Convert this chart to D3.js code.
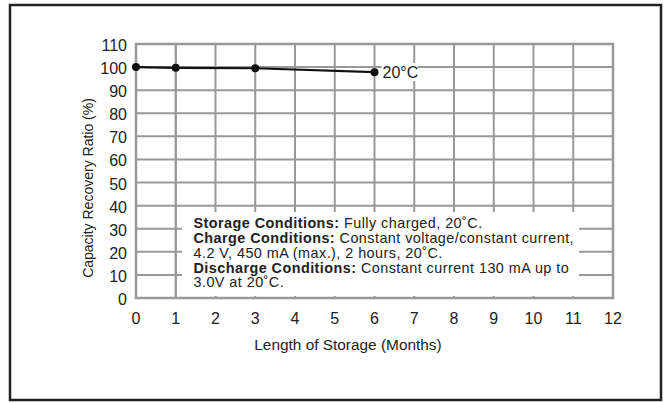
<!DOCTYPE html>
<html><head><meta charset="utf-8">
<script src="https://cdn.jsdelivr.net/npm/d3@7"></script>
<style>body{margin:0;background:#fff}svg{display:block}text{font-family:"Liberation Sans",Arial,sans-serif;fill:#222}</style>
</head><body><svg id="c" width="666" height="403"></svg>
<script>
const months = [0, 1, 3, 6];
const recovery = [100, 99.7, 99.5, 97.8];
const seriesLabel = "20°C";
const xTicks = [0,1,2,3,4,5,6,7,8,9,10,11,12];
const yTicks = [0,10,20,30,40,50,60,70,80,90,100,110];
const xTitle = "Length of Storage (Months)";
const yTitle = "Capacity Recovery Ratio (%)";
const noteLines = [
  [["Storage Conditions:", true], [" Fully charged, 20˚C.", false]],
  [["Charge Conditions:", true], [" Constant voltage/constant current,", false]],
  [["4.2 V, 450 mA (max.), 2 hours, 20˚C.", false]],
  [["Discharge Conditions:", true], [" Constant current 130 mA up to", false]],
  [["3.0V at 20˚C.", false]]
];

const svg = d3.select("#c");
const x = d3.scaleLinear().domain([0,12]).range([136,613]);
const y = d3.scaleLinear().domain([0,110]).range([298,44]);
const grid = "#999";

// outer frame
svg.append("rect").attr("x",10).attr("y",5).attr("width",651).attr("height",395)
  .attr("fill","none").attr("stroke","#222").attr("stroke-width",2.5);

// grid
svg.append("g").selectAll("line").data(xTicks).join("line")
  .attr("x1",d=>x(d)).attr("x2",d=>x(d)).attr("y1",y(110)).attr("y2",y(0))
  .attr("stroke",grid).attr("stroke-width",2);
svg.append("g").selectAll("line").data(yTicks).join("line")
  .attr("x1",x(0)).attr("x2",x(12)).attr("y1",d=>y(d)).attr("y2",d=>y(d))
  .attr("stroke",grid).attr("stroke-width",2);

// annotation box (white cover)
svg.append("rect").attr("x",182).attr("y",212).attr("width",397).attr("height",84).attr("fill","#fff");
svg.append("line").attr("x1",x(1)).attr("x2",x(1)).attr("y1",y(110)).attr("y2",y(0)).attr("stroke",grid).attr("stroke-width",2);
svg.append("rect").attr("x",x(0)).attr("y",y(110)).attr("width",x(12)-x(0)).attr("height",y(0)-y(110))
  .attr("fill","none").attr("stroke",grid).attr("stroke-width",2.5);

// axes labels
svg.append("g").selectAll("text").data(xTicks).join("text")
  .attr("x",d=>x(d)).attr("y",324).attr("text-anchor","middle").attr("font-size",16).text(d=>d);
svg.append("g").selectAll("text").data(yTicks).join("text")
  .attr("x",127).attr("y",d=>y(d)+7).attr("text-anchor","end").attr("font-size",16).text(d=>d);
svg.append("text").attr("x",348).attr("y",350).attr("text-anchor","middle").attr("font-size",15.4).text(xTitle);
svg.append("text").attr("transform","translate(93,188) rotate(-90)").attr("text-anchor","middle").attr("font-size",14).text(yTitle);

// series
const pts = months.map((m,i)=>[m,recovery[i]]);
svg.append("path").datum(pts).attr("fill","none").attr("stroke","#111").attr("stroke-width",2.2)
  .attr("d",d3.line().x(d=>x(d[0])).y(d=>y(d[1])));
svg.append("g").selectAll("circle").data(pts).join("circle")
  .attr("cx",d=>x(d[0])).attr("cy",d=>y(d[1])).attr("r",4).attr("fill","#111");
const last = pts[pts.length-1];
svg.append("rect").attr("x",x(last[0])+7).attr("y",y(last[1])-9).attr("width",36).attr("height",18).attr("fill","#fff");
svg.append("text").attr("x",x(last[0])+8).attr("y",y(last[1])+6).attr("font-size",16).text(seriesLabel);

// notes
const nt = svg.append("g");
noteLines.forEach((ln,i)=>{
  const t = nt.append("text").attr("x",193.5).attr("y",228.3+i*14.75).attr("font-size",14.4).attr("letter-spacing",0.45);
  ln.forEach(([s,b])=>t.append("tspan").attr("font-weight",b?"bold":"normal").text(s));
});
</script></body></html>
